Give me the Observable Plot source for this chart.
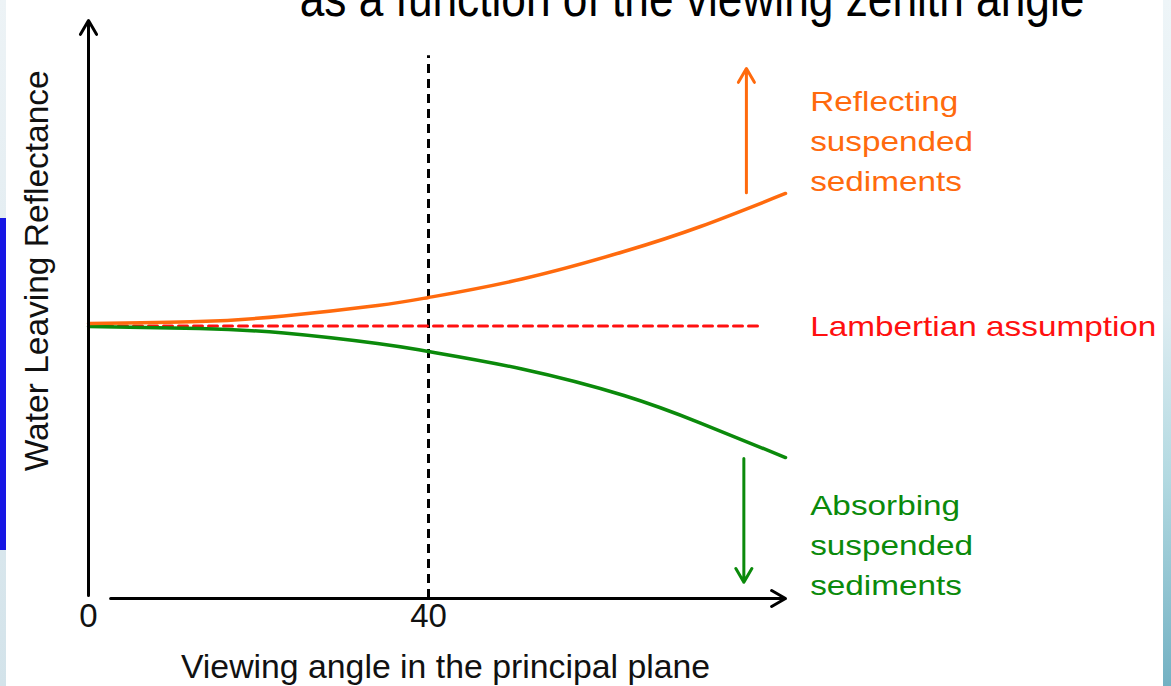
<!DOCTYPE html>
<html>
<head>
<meta charset="utf-8">
<script src="https://cdn.jsdelivr.net/npm/d3@7"></script>
<script src="https://cdn.jsdelivr.net/npm/@observablehq/plot@0.6"></script>
<style>
html, body { margin: 0; padding: 0; background: #fff; }
#wrap { position: relative; width: 1171px; height: 686px; overflow: hidden; }
#leftEdge { position: absolute; left: 0; top: 0; width: 6px; height: 686px; background: linear-gradient(#edf3f6, #d3e3ea); }
#leftBlue { position: absolute; left: 0; top: 218px; width: 6px; height: 332px; background: #1616e4; }
#rightEdge { position: absolute; right: 0; top: 0; width: 8px; height: 686px; background: linear-gradient(#eef5f8 0%, #dfedf2 45%, #b2d9e1 70%, #73b1c3 100%); }
#chart { position: absolute; left: 0; top: 0; }
</style>
</head>
<body>
<div id="wrap">
  <div id="leftEdge"></div>
  <div id="leftBlue"></div>
  <div id="rightEdge"></div>
  <div id="chart"></div>
</div>
<script>
// ---- data (x: viewing angle in degrees, y: relative reflectance) ----
const angles     = [0, 13, 23, 34, 40, 51, 63, 72, 82];
const reflecting = [47.58, 47.92, 48.88, 50.69, 52.08, 55.28, 60.03, 64.36, 70.07];
const absorbing  = [47.06, 46.71, 45.93, 44.12, 42.73, 39.71, 35.12, 30.36, 24.39];
const lambertAngles = [0, 79];
const lambertValue  = 47.15;
const markerAngle   = 40;
const markerTop     = 93.9;
const xTickValues   = [0, 40];
const xTickLabels   = ["0", "40"];
const axisXEnd = 82, axisYEnd = 100, axisXStart = 2.6;
const upArrow   = {x: 77.4, y1: 70.2, y2: 91.7};
const downArrow = {x: 77.1, y1: 24.2, y2: 2.8};

const titleText  = "as a function of the viewing zenith angle";
const yLabelText = "Water Leaving Reflectance";
const xLabelText = "Viewing angle in the principal plane";
const labelReflect = "Reflecting\nsuspended\nsediments";
const labelLambert = "Lambertian assumption";
const labelAbsorb  = "Absorbing\nsuspended\nsediments";

// ---- tables built from the arrays ----
const reflectRows = angles.map((a, i) => ({a, v: reflecting[i]}));
const absorbRows  = angles.map((a, i) => ({a, v: absorbing[i]}));
const lambertRows = lambertAngles.map(a => ({a, v: lambertValue}));
const tickRows    = xTickValues.map((a, i) => ({a, t: xTickLabels[i]}));

const ORANGE = "#ff6a0d", RED = "#ff1010", GREEN = "#0b8a0b";
const FONT = "'Liberation Sans', Arial, Helvetica, sans-serif";

const chart = Plot.plot({
  width: 1171,
  height: 686,
  marginLeft: 88,
  marginRight: 386,
  marginTop: 20,
  marginBottom: 88,
  style: {background: "transparent", fontFamily: FONT, overflow: "visible"},
  x: {domain: [0, 82], axis: null},
  y: {domain: [0, 100], axis: null},
  marks: [
    // vertical dashed marker at 40°
    Plot.ruleX([markerAngle], {y1: 0, y2: markerTop, stroke: "#000", strokeWidth: 3, strokeDasharray: "9,6"}),
    // Lambertian assumption
    Plot.line(lambertRows, {x: "a", y: "v", stroke: RED, strokeWidth: 3, strokeDasharray: "9,6"}),
    // curves
    Plot.line(absorbRows, {x: "a", y: "v", stroke: GREEN, strokeWidth: 3.5, curve: "natural"}),
    Plot.line(reflectRows, {x: "a", y: "v", stroke: ORANGE, strokeWidth: 3.5, curve: "natural"}),
    // axes with arrow heads
    Plot.arrow([0], {x1: 0, x2: 0, y1: 0.5, y2: axisYEnd, stroke: "#000", strokeWidth: 3, headLength: 8, headAngle: 60}),
    Plot.arrow([0], {x1: axisXStart, x2: axisXEnd, y1: 0, y2: 0, stroke: "#000", strokeWidth: 3, headLength: 8, headAngle: 60}),
    // direction arrows
    Plot.arrow([upArrow], {x1: "x", x2: "x", y1: "y1", y2: "y2", stroke: ORANGE, strokeWidth: 3, headLength: 8, headAngle: 60}),
    Plot.arrow([downArrow], {x1: "x", x2: "x", y1: "y1", y2: "y2", stroke: GREEN, strokeWidth: 3, headLength: 8, headAngle: 60}),
    // tick labels
    Plot.text(tickRows, {x: "a", y: 0, text: "t", dy: 18, fontSize: 33, fill: "#111", lineAnchor: "middle"}),
    // axis titles
    Plot.text([xLabelText], {frameAnchor: "bottom", dx: 8.5, dy: 69, text: d => d, fontSize: 33.8, fill: "#111", lineAnchor: "middle"}),
    Plot.text([yLabelText], {x: -6, y: 56.7, text: d => d, rotate: -90, fontSize: 33.5, fill: "#111", lineAnchor: "middle"}),
    // annotations
    Plot.text([labelReflect], {x: 84.9, y: 89.2, text: d => d, textAnchor: "start", lineAnchor: "top", lineHeight: 1.43, fontSize: 28, fill: ORANGE}),
    Plot.text([labelLambert], {x: 84.9, y: lambertValue, dy: 1.5, text: d => d, textAnchor: "start", lineAnchor: "middle", fontSize: 28, fill: RED}),
    Plot.text([labelAbsorb], {x: 84.9, y: 19.35, text: d => d, textAnchor: "start", lineAnchor: "top", lineHeight: 1.43, fontSize: 28, fill: GREEN}),
    // title (cut at the top edge, as in the reference)
    Plot.text([titleText], {x: 71, y: 103.6, text: d => d, fontSize: 52, fill: "#000", lineAnchor: "middle", fontFamily: FONT})
  ]
});
document.getElementById("chart").appendChild(chart);

// horizontal stretch of some texts, as in the reference
function stretch(el, sx) {
  const tr = el.getAttribute("transform");
  if (tr && tr.includes("translate")) {
    el.setAttribute("transform", tr + ` scale(${sx},1)`);
  } else {
    const x = +(el.getAttribute("x") || 0), y = +(el.getAttribute("y") || 0);
    el.setAttribute("transform", `translate(${x},${y}) scale(${sx},1) translate(${-x},${-y})`);
  }
}
d3.select(chart).selectAll("text").each(function() {
  const t = this.textContent;
  if (t === titleText) {
    stretch(this, 785 / this.getComputedTextLength());
  } else if (t.includes("suspended") || t === labelLambert) {
    stretch(this, 1.19);
  }
});
</script>
</body>
</html>
